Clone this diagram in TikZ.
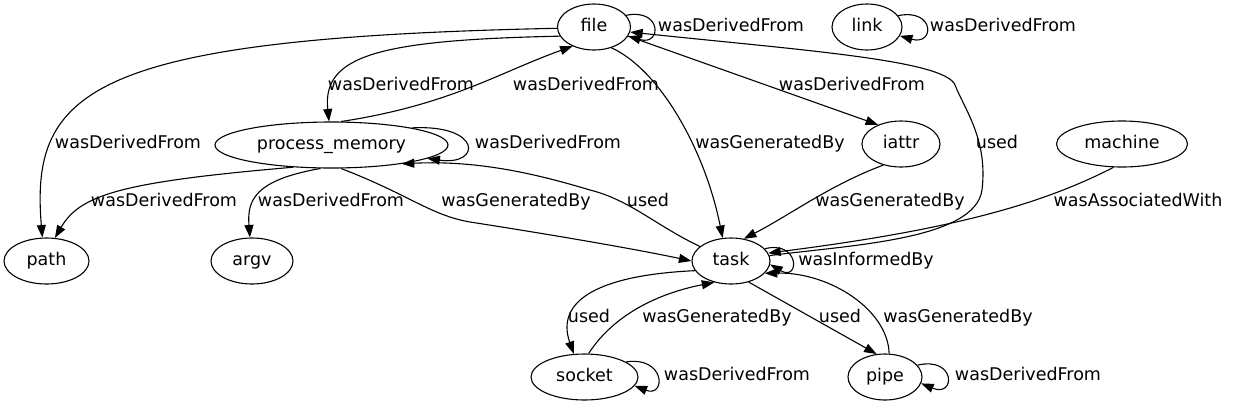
\documentclass[tikz,border=0pt]{standalone}
\usepackage{fontspec}
\setmainfont{DejaVu Sans}
\usetikzlibrary{shapes.geometric,arrows.meta}

\begin{document}
\begin{tikzpicture}[x=1bp,y=-1bp,
    font=\fontsize{17.5bp}{20bp}\selectfont,
    ent/.style={draw, ellipse, line width=1.1bp, inner sep=0pt, minimum height=46bp, text height=13bp, text depth=4bp},
    rel/.style={-{Triangle[length=12.5bp,width=9bp]}, line width=1.1bp},
    lbl/.style={inner sep=0pt, text height=13bp, text depth=4bp}]
    \useasboundingbox (0,0) rectangle (1234,407);

    % Entities and activities
    \node[ent, minimum width=73bp] (file) at (594,27) {file};
    \node[ent, minimum width=70bp] (link) at (867,27) {link};
    \node[ent, minimum width=233bp] (pm) at (331.5,145) {process\_memory};
    \node[ent, minimum width=78bp] (iattr) at (901,144) {iattr};
    \node[ent, minimum width=131bp] (machine) at (1122,144) {machine};
    \node[ent, minimum width=85bp] (path) at (46.5,261) {path};
    \node[ent, minimum width=82bp] (argv) at (252,261) {argv};
    \node[ent, minimum width=78bp] (task) at (731,261) {task};
    \node[ent, minimum width=107bp] (socket) at (584.5,377) {socket};
    \node[ent, minimum width=74bp] (pipe) at (885,377) {pipe};

    % Self loops
    \draw[rel] (file.20) .. controls (662,8) and (662,46) .. (file.-15);
    \draw[rel] (link.20) .. controls (935,8) and (935,46) .. (link.-15);
    \draw[rel] (pm.12) .. controls (482,124) and (482,166) .. (pm.-8);
    \draw[rel] (task.20) .. controls (800,240) and (800,282) .. (task.-5);
    \draw[rel] (socket.20) .. controls (666,356) and (666,398) .. (socket.-10);
    \draw[rel] (pipe.20) .. controls (956,356) and (956,398) .. (pipe.-10);

    % Edges from file
    \draw[rel] (file.182) .. controls (90,38) and (30,90) .. (path.100);
    \draw[rel] (file.195) .. controls (380,40) and (322,55) .. (pm.96);
    \draw[rel] (file.-50) .. controls (660,70) and (705,150) .. (task.110);
    \draw[rel] (file.-15) -- (iattr.140);

    % Edges from process_memory
    \draw[rel] (pm.68) .. controls (450,105) and (500,72) .. (file.222);
    \draw[rel] (pm.210) .. controls (120,182) and (80,195) .. (path.70);
    \draw[rel] (pm.245) .. controls (255,180) and (247,200) .. (argv.95);
    \draw[rel] (pm.-68) .. controls (410,195) and (430,215) .. (470,222)
        .. controls (560,236) and (640,250) .. (task.west);

    % Edges from task
    \draw[rel] (task.155) .. controls (655,225) and (630,200) .. (590,190)
        .. controls (540,175) and (480,160) .. (pm.-15);
    \draw[rel] (task.8) .. controls (850,245) and (975,240) .. (982,190)
        .. controls (988,140) and (965,110) .. (955,85)
        .. controls (945,60) and (800,50) .. (file.-8);
    \draw[rel] (task.195) .. controls (600,275) and (555,300) .. (socket.115);
    \draw[rel] (task.-50) -- (pipe.110);

    % Edges into task
    \draw[rel] (iattr.230) .. controls (830,185) and (790,215) .. (task.60);
    \draw[rel] (machine.250) .. controls (1040,205) and (950,230) .. (task.12);
    \draw[rel] (socket.80) .. controls (610,320) and (650,295) .. (task.232);
    \draw[rel] (pipe.80) .. controls (888,310) and (830,272) .. (task.-20);

    % Labels
    \node[lbl] (l1) at (731,27) {wasDerivedFrom};
    \node[lbl] (l2) at (1003,27) {wasDerivedFrom};
    \node[lbl] (l3) at (401,86) {wasDerivedFrom};
    \node[lbl] (l4) at (586,86) {wasDerivedFrom};
    \node[lbl] (l5) at (852,86) {wasDerivedFrom};
    \node[lbl] (l6) at (128,144) {wasDerivedFrom};
    \node[lbl] (l7) at (548,144) {wasDerivedFrom};
    \node[lbl] (l8) at (770,144) {wasGeneratedBy};
    \node[lbl] (l9) at (997,144) {used};
    \node[lbl] (l10) at (164,202) {wasDerivedFrom};
    \node[lbl] (l11) at (331,202) {wasDerivedFrom};
    \node[lbl] (l12) at (516,202) {wasGeneratedBy};
    \node[lbl] (l13) at (648,202) {used};
    \node[lbl] (l14) at (890,202) {wasGeneratedBy};
    \node[lbl] (l15) at (1138,202) {wasAssociatedWith};
    \node[lbl] (l16) at (866,261) {wasInformedBy};
    \node[lbl] (l17) at (589,318) {used};
    \node[lbl] (l18) at (717,318) {wasGeneratedBy};
    \node[lbl] (l19) at (840,318) {used};
    \node[lbl] (l20) at (958,318) {wasGeneratedBy};
    \node[lbl] (l21) at (737,376) {wasDerivedFrom};
    \node[lbl] (l22) at (1028,376) {wasDerivedFrom};
\end{tikzpicture}
\end{document}
